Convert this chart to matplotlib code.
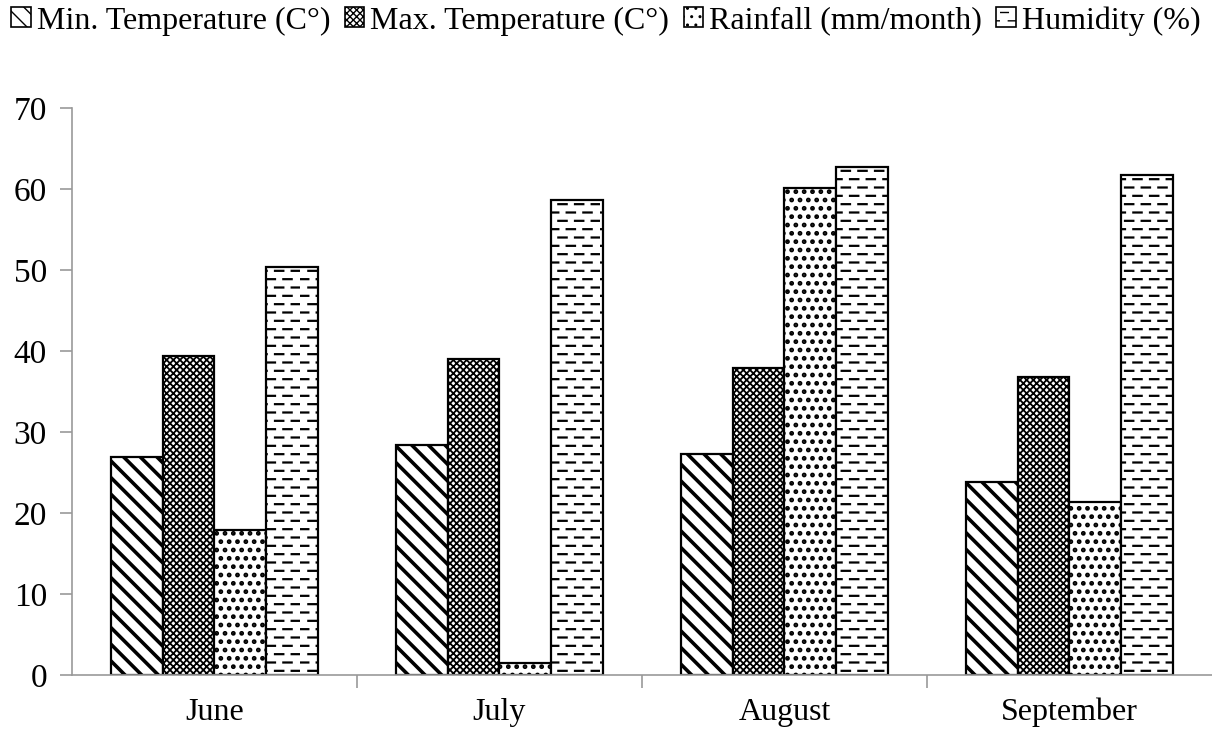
import numpy as np
import matplotlib
matplotlib.use("Agg")
import matplotlib.pyplot as plt
from matplotlib import hatch as mhatch
from matplotlib.path import Path

months = ['June', 'July', 'August', 'September']
min_temp = [27.0, 28.4, 27.4, 23.9]
max_temp = [39.4, 39.1, 38.0, 36.8]
rainfall = [18.0, 1.6, 60.2, 21.4]
humidity = [50.4, 58.7, 62.8, 61.8]

series = [
    ('Min. Temperature (C°)', min_temp, '\\\\', 2.6),
    ('Max. Temperature (C°)', max_temp, 'xxxxx', 1.3),
    ('Rainfall (mm/month)', rainfall, '..', 2.2),
    ('Humidity (%)', humidity, '--', 1.6),
]


# dashed version of the '-' hatch (staggered dashes like the original)
class DashedHorizontalHatch(mhatch.HatchPatternBase):
    n_dash = 6

    def __init__(self, hatch, density):
        self.num_lines = int((hatch.count('-') + hatch.count('+')) * density)
        self.num_vertices = self.num_lines * self.n_dash * 2

    def set_vertices_and_codes(self, vertices, codes):
        steps, stepsize = np.linspace(0.0, 1.0, self.num_lines, False, retstep=True)
        steps += stepsize / 2.
        period = 1.0 / self.n_dash
        k = 0
        for i, y in enumerate(steps):
            off = (i % 2) * period / 2
            for j in range(self.n_dash):
                x0 = j * period + off
                vertices[k] = (x0, y)
                vertices[k + 1] = (x0 + period / 2, y)
                codes[k] = Path.MOVETO
                codes[k + 1] = Path.LINETO
                k += 2


mhatch._hatch_types = [DashedHorizontalHatch if t is mhatch.HorizontalHatch else t
                       for t in mhatch._hatch_types]

plt.rcParams['font.family'] = ['Liberation Serif', 'DejaVu Serif']

fig = plt.figure(figsize=(12.12, 7.30), dpi=100)
ax = fig.add_axes([0.0594, 0.0747, 0.9406, 0.7767])

x = np.arange(len(months))
w = 0.182
for i, (name, vals, hatch, hlw) in enumerate(series):
    with plt.rc_context({'hatch.linewidth': hlw}):
        bars = ax.bar(x + (i - 1.5) * w, vals, w, color='white', edgecolor='black',
                      linewidth=1.6, hatch=hatch, label=name)
    for b in bars:
        if hasattr(b, 'set_hatch_linewidth'):
            b.set_hatch_linewidth(hlw)

ax.set_xlim(-0.5, 3.5)
ax.set_ylim(0, 70)
ax.set_yticks(range(0, 71, 10))
ax.set_xticks(x)
ax.set_xticklabels(months)
ax.set_xticks([0.5, 1.5, 2.5], minor=True)
ax.tick_params(axis='x', which='major', length=0, labelsize=23, pad=16)
ax.tick_params(axis='x', which='minor', length=9, width=1.2, color='#999999')
ax.tick_params(axis='y', length=9, width=1.2, color='#999999', labelsize=24, pad=9)
for s in ['top', 'right']:
    ax.spines[s].set_visible(False)
for s in ['left', 'bottom']:
    ax.spines[s].set_color('#999999')
    ax.spines[s].set_linewidth(1.2)

leg = fig.legend(loc='upper center', bbox_to_anchor=(0.5, 1.018), ncol=4, frameon=False,
                 fontsize=23, handlelength=0.6, handleheight=0.6, handletextpad=0.2,
                 columnspacing=0.45, borderaxespad=0.2)
for h in leg.legend_handles:
    h.set_linewidth(1.2)

fig.savefig('out.png', dpi=100)
